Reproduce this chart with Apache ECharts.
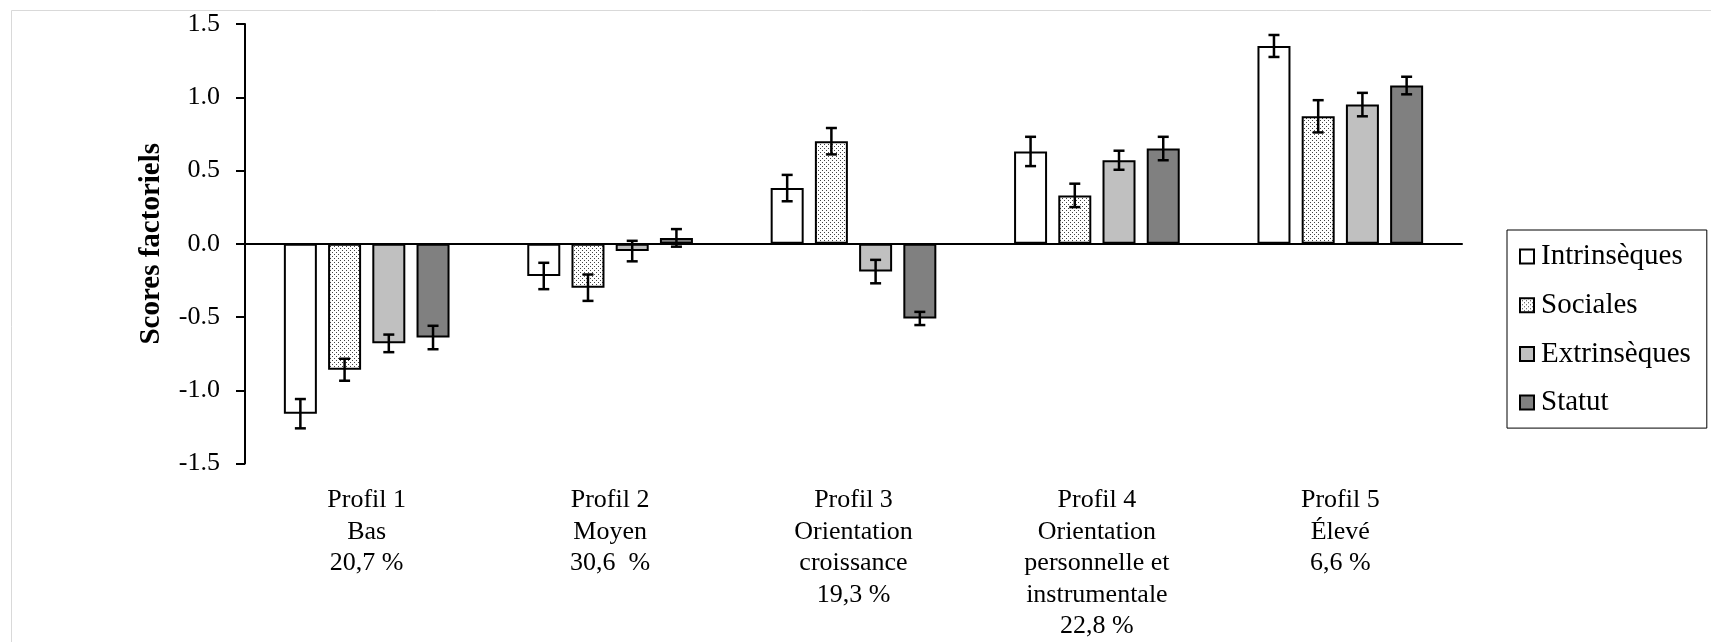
<!DOCTYPE html>
<html>
<head>
<meta charset="utf-8">
<script src="https://cdn.jsdelivr.net/npm/echarts@6/dist/echarts.min.js"></script>
<style>
html,body{margin:0;padding:0;background:#fff;}
#chart{width:1711px;height:642px;}
</style>
</head>
<body>
<div id="chart"></div>
<script>
const categories = [
  'Profil 1\nBas\n20,7 %',
  'Profil 2\nMoyen\n30,6  %',
  'Profil 3\nOrientation\ncroissance\n19,3 %',
  'Profil 4\nOrientation\npersonnelle et\ninstrumentale\n22,8 %',
  'Profil 5\nÉlevé\n6,6 %'
];
const seriesNames = ['Intrinsèques', 'Sociales', 'Extrinsèques', 'Statut'];
const intrinseques = [-1.16, -0.22, 0.38, 0.63, 1.35];
const sociales     = [-0.86, -0.30, 0.70, 0.33, 0.87];
const extrinseques = [-0.68, -0.05, -0.19, 0.57, 0.95];
const statut       = [-0.64, 0.04, -0.51, 0.65, 1.08];
const errIntrinseques = [0.10, 0.09, 0.09, 0.10, 0.075];
const errSociales     = [0.075, 0.09, 0.09, 0.08, 0.11];
const errExtrinseques = [0.06, 0.07, 0.08, 0.065, 0.08];
const errStatut       = [0.08, 0.06, 0.045, 0.08, 0.06];
const yTicks = [-1.5, -1.0, -0.5, 0.0, 0.5, 1.0, 1.5];

const values = [intrinseques, sociales, extrinseques, statut];
const errors = [errIntrinseques, errSociales, errExtrinseques, errStatut];

// dotted pattern for "Sociales"
const pc = document.createElement('canvas');
pc.width = 4; pc.height = 4;
const pctx = pc.getContext('2d');
pctx.fillStyle = '#fff'; pctx.fillRect(0, 0, 4, 4);
pctx.fillStyle = '#444';
pctx.fillRect(0, 0, 1, 1);
pctx.fillRect(2, 2, 1, 1);

const fills = ['#ffffff', {image: pc, repeat: 'repeat'}, '#c0c0c0', '#808080'];

const BAR_W = 33;
const GAP = 0.34;
const FONT = '"Liberation Serif", "Times New Roman", serif';

const series = [];
seriesNames.forEach((name, i) => {
  series.push({
    name: name,
    type: 'bar',
    xAxisIndex: 0,
    barWidth: BAR_W,
    barGap: (GAP * 100) + '%',
    itemStyle: {color: fills[i], borderColor: '#000', borderWidth: 2},
    emphasis: {disabled: true},
    data: values[i]
  });
});
seriesNames.forEach((name, i) => {
  series.push({
    type: 'custom',
    xAxisIndex: 0,
    z: 5,
    silent: true,
    data: values[i].map((v, k) => [k, v, errors[i][k]]),
    renderItem: function (params, api) {
      const x = api.value(0), v = api.value(1), e = api.value(2);
      const hi = api.coord([x, v + e]);
      const lo = api.coord([x, v - e]);
      const pitch = BAR_W * (1 + GAP);
      const cx = hi[0] + (i - 1.5) * pitch;
      const cap = 5.5;
      const st = {stroke: '#000', lineWidth: 2.5};
      return {
        type: 'group',
        children: [
          {type: 'line', shape: {x1: cx, y1: hi[1], x2: cx, y2: lo[1]}, style: st},
          {type: 'line', shape: {x1: cx - cap, y1: hi[1], x2: cx + cap, y2: hi[1]}, style: st},
          {type: 'line', shape: {x1: cx - cap, y1: lo[1], x2: cx + cap, y2: lo[1]}, style: st}
        ]
      };
    }
  });
});

const chart = echarts.init(document.getElementById('chart'));
chart.setOption({
  animation: false,
  backgroundColor: '#fff',
  textStyle: {fontFamily: FONT, color: '#000'},
  graphic: [{
    type: 'rect', left: 9, top: 8, silent: true,
    shape: {width: 1800, height: 800},
    style: {fill: 'none', stroke: '#d9d9d9', lineWidth: 1}
  }],
  grid: {left: 245, top: 24, width: 1217, height: 448, containLabel: false},
  legend: {
    orient: 'vertical',
    left: 1507, top: 230,
    padding: [12, 16, 11, 12],
    borderColor: '#000', borderWidth: 1,
    itemWidth: 14, itemHeight: 14, itemGap: 19.7,
    icon: 'rect',
    itemStyle: {borderColor: '#000', borderWidth: 2},
    textStyle: {fontFamily: FONT, fontSize: 29, color: '#000', padding: [0, 0, 0, 2], lineHeight: 28},
    data: seriesNames
  },
  xAxis: [{
    type: 'category',
    data: categories,
    axisLine: {show: true, onZero: true, lineStyle: {color: '#000', width: 2}},
    axisTick: {show: false},
    axisLabel: {show: false},
    splitLine: {show: false}
  }, {
    type: 'category',
    data: categories,
    position: 'bottom',
    axisLine: {show: false, onZero: false},
    axisTick: {show: false},
    axisLabel: {show: true, fontFamily: FONT, fontSize: 26, color: '#000', lineHeight: 31.5, margin: 21, interval: 0},
    splitLine: {show: false}
  }],
  yAxis: {
    type: 'value',
    min: yTicks[0], max: yTicks[yTicks.length - 1], interval: 0.5,
    name: 'Scores factoriels',
    nameLocation: 'middle',
    nameGap: 79,
    nameTextStyle: {fontFamily: FONT, fontSize: 29, fontWeight: 'bold', color: '#000'},
    axisLine: {show: true, lineStyle: {color: '#000', width: 2}},
    axisTick: {show: true, inside: false, length: 9, lineStyle: {color: '#000', width: 2}},
    axisLabel: {fontFamily: FONT, fontSize: 26, color: '#000', margin: 25, formatter: v => v.toFixed(1)},
    splitLine: {show: false}
  },
  series: series
});
</script>
</body>
</html>
